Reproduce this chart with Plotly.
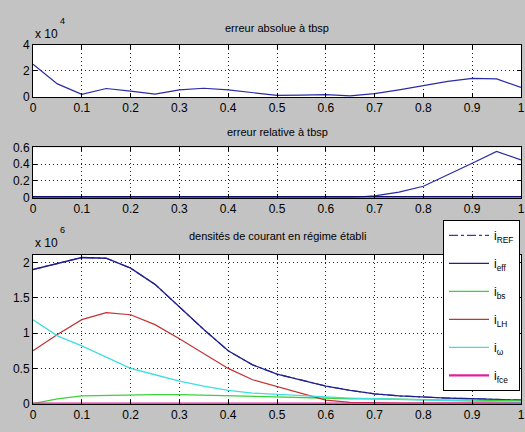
import plotly.graph_objects as go

# ---------------- data ----------------
x = [0.0, 0.05, 0.1, 0.15, 0.2, 0.25, 0.3, 0.35, 0.4, 0.45, 0.5,
     0.55, 0.6, 0.65, 0.7, 0.75, 0.8, 0.85, 0.9, 0.95, 1.0]

# erreur absolue (x 10^4)
err_abs = [2.5, 1.0, 0.2, 0.65, 0.45, 0.22, 0.55, 0.67, 0.55, 0.33, 0.12,
           0.15, 0.18, 0.08, 0.25, 0.55, 0.9, 1.2, 1.43, 1.38, 0.74]
# erreur relative
err_rel = [0.0, 0.0, 0.0, 0.0, 0.0, 0.0, 0.0, 0.0, 0.0, 0.0, 0.0,
           0.0, 0.0, 0.0, 0.02, 0.066, 0.135, 0.27, 0.41, 0.55, 0.45]

# densités de courant (x 10^6)
i_eff = [1.90, 1.98, 2.07, 2.06, 1.92, 1.69, 1.37, 1.05, 0.75, 0.55, 0.42,
         0.33, 0.25, 0.19, 0.14, 0.11, 0.09, 0.08, 0.07, 0.06, 0.05]
i_ref = list(i_eff)
i_bs = [0.0, 0.07, 0.11, 0.12, 0.13, 0.13, 0.13, 0.12, 0.11, 0.10, 0.10,
        0.09, 0.08, 0.07, 0.07, 0.06, 0.06, 0.05, 0.05, 0.04, 0.04]
i_lh = [0.75, 0.98, 1.19, 1.29, 1.26, 1.12, 0.92, 0.71, 0.50, 0.34, 0.24,
        0.14, 0.05, 0.02, 0.01, 0.01, 0.01, 0.01, 0.01, 0.01, 0.01]
i_w = [1.19, 0.96, 0.82, 0.66, 0.50, 0.41, 0.32, 0.25, 0.19, 0.15, 0.13,
       0.11, 0.09, 0.08, 0.07, 0.06, 0.05, 0.04, 0.03, 0.03, 0.02]
i_fce = [0.0] * 21

xticks = [0, 0.1, 0.2, 0.3, 0.4, 0.5, 0.6, 0.7, 0.8, 0.9, 1]
xticklabels = ["0", "0.1", "0.2", "0.3", "0.4", "0.5", "0.6", "0.7", "0.8", "0.9", "1"]

titles = ["erreur absolue à tbsp", "erreur relative à tbsp",
          "densités de courant en régime établi"]

# ---------------- layout geometry ----------------
W, H = 525, 432
L, R = 33, 4
PW = W - L - R


def ydom(top, bot):
    return [1 - bot / H, 1 - top / H]


def py(p):
    return 1 - p / H


def px(p):
    return (p - L) / PW


FONT = "Liberation Sans, Arial, sans-serif"

fig = go.Figure()

fig.add_trace(go.Scatter(x=x, y=err_abs, xaxis="x", yaxis="y", mode="lines",
                         line=dict(color="#2b2ba6", width=1.2), showlegend=False))
fig.add_trace(go.Scatter(x=x, y=err_rel, xaxis="x2", yaxis="y2", mode="lines",
                         line=dict(color="#2b2ba6", width=1.2), showlegend=False))
fig.add_trace(go.Scatter(x=x, y=[0.0] * 21, xaxis="x2", yaxis="y2", mode="lines",
                         line=dict(color="#101070", width=3), showlegend=False))

series = [
    ("i<sub>REF</sub>", i_ref, "#3a3ab8", "dashdot", 1.2),
    ("i<sub>eff</sub>", i_eff, "#20208a", "solid", 1.3),
    ("i<sub>bs</sub>", i_bs, "#3cd23c", "solid", 1.3),
    ("i<sub>LH</sub>", i_lh, "#c43232", "solid", 1.2),
    ("i<sub>ω</sub>", i_w, "#40dede", "solid", 1.3),
    ("i<sub>fce</sub>", i_fce, "#e0209c", "solid", 2.2),
]
for k, (name, ys, col, dash, w) in enumerate(series):
    fig.add_trace(go.Scatter(x=x, y=ys, xaxis="x3", yaxis="y3", mode="lines",
                             name=name, legendgroup=str(k),
                             line=dict(color=col, width=w, dash=dash)))

axis_common = dict(showline=True, linecolor="black", linewidth=1, mirror="ticks",
                   ticks="inside", ticklen=4, tickcolor="black",
                   showgrid=True, gridcolor="#222222", griddash="1px,3px", gridwidth=1,
                   zeroline=False, tickfont=dict(family=FONT, size=12, color="black"),
                   fixedrange=True)

xa = dict(axis_common, range=[0, 1], tickvals=xticks, ticktext=xticklabels)

fig.update_layout(
    width=W, height=H,
    margin=dict(l=L, r=R, t=0, b=0),
    paper_bgcolor="#c3c3c3", plot_bgcolor="white",
    font=dict(family=FONT, size=11, color="black"),
    xaxis=dict(xa, anchor="y"),
    xaxis2=dict(xa, anchor="y2"),
    xaxis3=dict(xa, anchor="y3"),
    yaxis=dict(axis_common, anchor="x", domain=ydom(39, 93), range=[0, 4],
               tickvals=[0, 2, 4], ticktext=["0", "2", "4"]),
    yaxis2=dict(axis_common, anchor="x2", domain=ydom(145, 197), range=[0, 0.6],
                tickvals=[0, 0.2, 0.4, 0.6], ticktext=["0", "0.2", "0.4", "0.6"]),
    yaxis3=dict(axis_common, anchor="x3", domain=ydom(256, 410), range=[0, 2.11],
                tickvals=[0, 0.5, 1, 1.5, 2], ticktext=["0", "0.5", "1", "1.5", "2"]),
    legend=dict(x=px(443), y=py(220), xanchor="left", yanchor="top",
                bgcolor="white", bordercolor="black", borderwidth=1,
                font=dict(family=FONT, size=12, color="black"),
                tracegroupgap=9, itemwidth=40),
)

ann = []
for t, yc in zip(titles, [22, 129, 237]):
    ann.append(dict(text=t, xref="paper", yref="paper", x=0.5, y=py(yc),
                    xanchor="center", yanchor="middle", showarrow=False,
                    font=dict(family=FONT, size=11, color="black")))
for yb, ys, e in [(28, 14, "4"), (244, 230, "6")]:
    ann.append(dict(text="x 10", xref="paper", yref="paper", x=0, y=py(yb),
                    xanchor="left", yanchor="middle", showarrow=False,
                    font=dict(family=FONT, size=12, color="black")))
    ann.append(dict(text=e, xref="paper", yref="paper", x=px(62), y=py(ys),
                    xanchor="center", yanchor="middle", showarrow=False,
                    font=dict(family=FONT, size=9, color="black")))
fig.update_layout(annotations=ann)

fig.write_html("out.html")
